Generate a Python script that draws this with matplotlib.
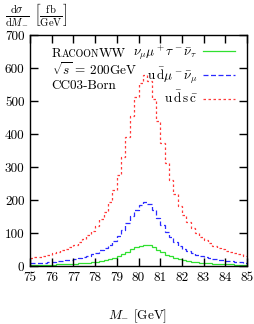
import numpy as np
import matplotlib
matplotlib.use("Agg")
import matplotlib.pyplot as plt
from matplotlib.lines import Line2D

plt.rcParams['font.family'] = ['cmr10', 'DejaVu Serif']
plt.rcParams['mathtext.fontset'] = 'cm'
plt.rcParams['axes.unicode_minus'] = False
plt.rcParams['axes.formatter.use_mathtext'] = True

# bin edges (GeV), 0.2 GeV bins
bin_edges = np.linspace(75.0, 85.0, 51)

udsc = [24, 26, 28, 31, 34, 38, 42, 47, 52, 58,
        65, 73, 82, 93, 106, 122, 141, 165, 194, 230,
        276, 330, 392, 455, 512, 555, 578, 560, 505, 440,
        372, 312, 260, 218, 183, 155, 133, 115, 100, 88,
        78, 69, 62, 56, 51, 46, 42, 38, 35, 31]

udmunu = [8.0, 8.7, 9.3, 10.3, 11.3, 12.7, 14.0, 15.7, 17.3, 19.3,
          21.7, 24.3, 27.3, 31.0, 35.3, 40.7, 47.0, 55.0, 64.7, 76.7,
          92.0, 110.0, 130.7, 151.7, 170.7, 185.0, 192.7, 186.7, 168.3, 146.7,
          124.0, 104.0, 86.7, 72.7, 61.0, 51.7, 44.3, 38.3, 33.3, 29.3,
          26.0, 23.0, 20.7, 18.7, 17.0, 15.3, 14.0, 12.7, 11.7, 10.3]

numutau = [2.7, 2.9, 3.1, 3.4, 3.8, 4.2, 4.7, 5.2, 5.8, 6.4,
           7.2, 8.1, 9.1, 10.3, 11.8, 13.6, 15.7, 18.3, 21.6, 25.6,
           30.7, 36.7, 43.6, 50.6, 56.9, 61.7, 64.2, 62.2, 56.1, 48.9,
           41.3, 34.7, 28.9, 24.2, 20.3, 17.2, 14.8, 12.8, 11.1, 9.8,
           8.7, 7.7, 6.9, 6.2, 5.7, 5.1, 4.7, 4.2, 3.9, 3.4]

x_ticks = [75, 76, 77, 78, 79, 80, 81, 82, 83, 84, 85]
y_ticks = [0, 100, 200, 300, 400, 500, 600, 700]

labels = [r'$\nu_\mu\mu^+\tau^-\bar\nu_\tau$',
          r'$\mathrm{u}\,\bar{\mathrm{d}}\mu^-\bar\nu_\mu$',
          r'$\mathrm{u}\,\bar{\mathrm{d}}\,\mathrm{s}\,\bar{\mathrm{c}}$']
colors = ['#30e030', '#2a2aff', '#ff3a3a']

fig = plt.figure(figsize=(2.54, 3.24), dpi=100)
ax = fig.add_axes([30/254, 1-266/324, 217/254, 231/324])

ax.stairs(numutau, bin_edges, color=colors[0], lw=0.9, linestyle='-', baseline=None)
ax.stairs(udmunu, bin_edges, color=colors[1], lw=0.9, linestyle=(0, (4, 2)), baseline=None)
ax.stairs(udsc, bin_edges, color=colors[2], lw=0.9, linestyle=(0, (2, 2)), baseline=None)

ax.set_xlim(75, 85)
ax.set_ylim(0, 700)
ax.set_xticks(x_ticks)
ax.set_xticklabels([str(t) for t in x_ticks])
ax.set_yticks(y_ticks)
ax.set_yticklabels([str(t) for t in y_ticks])
ax.tick_params(direction='in', length=6, width=1.0, top=True, right=True,
               labelsize=9.5, pad=4)
for s in ax.spines.values():
    s.set_linewidth(1.0)

handles = [Line2D([], [], color=colors[0], lw=0.9, linestyle='-'),
           Line2D([], [], color=colors[1], lw=0.9, linestyle=(0, (4, 2))),
           Line2D([], [], color=colors[2], lw=0.9, linestyle=(0, (2, 2)))]
ax.legend(handles, labels, loc='upper right', bbox_to_anchor=(0.945, 0.965),
          frameon=False, markerfirst=False, fontsize=9.5, handlelength=2.4,
          handletextpad=0.4, labelspacing=0.3, borderpad=0, borderaxespad=0)

# RacoonWW in small caps
fig.canvas.draw()
r = fig.canvas.get_renderer()
x0, yb = 0.10, 0.905
t1 = ax.text(x0, yb, 'R', transform=ax.transAxes, fontsize=9.5, va='baseline')
bb = t1.get_window_extent(r)
inv = ax.transAxes.inverted()
x1 = inv.transform((bb.x1, bb.y0))[0]
t2 = ax.text(x1, yb, 'ACOON', transform=ax.transAxes, fontsize=7.2, va='baseline')
bb = t2.get_window_extent(r)
x2 = inv.transform((bb.x1, bb.y0))[0]
ax.text(x2, yb, 'WW', transform=ax.transAxes, fontsize=9.5, va='baseline')

ax.text(x0, 0.827, r'$\sqrt{s}$ = 200GeV', transform=ax.transAxes, fontsize=9.5, va='baseline')
ax.text(x0, 0.766, 'CC03-Born', transform=ax.transAxes, fontsize=9.5, va='baseline')

fig.text(5/254, 1-14/324,
         r'$\frac{\mathrm{d}\sigma}{\mathrm{d}M_{-}}\ \left[\frac{\mathrm{fb}}{\mathrm{GeV}}\right]$',
         fontsize=11, va='center', ha='left')
fig.text(138/254, 1-316/324, r'$M_{-}$ [GeV]', fontsize=9.5, va='center', ha='center')

fig.savefig('out.png', dpi=100)
